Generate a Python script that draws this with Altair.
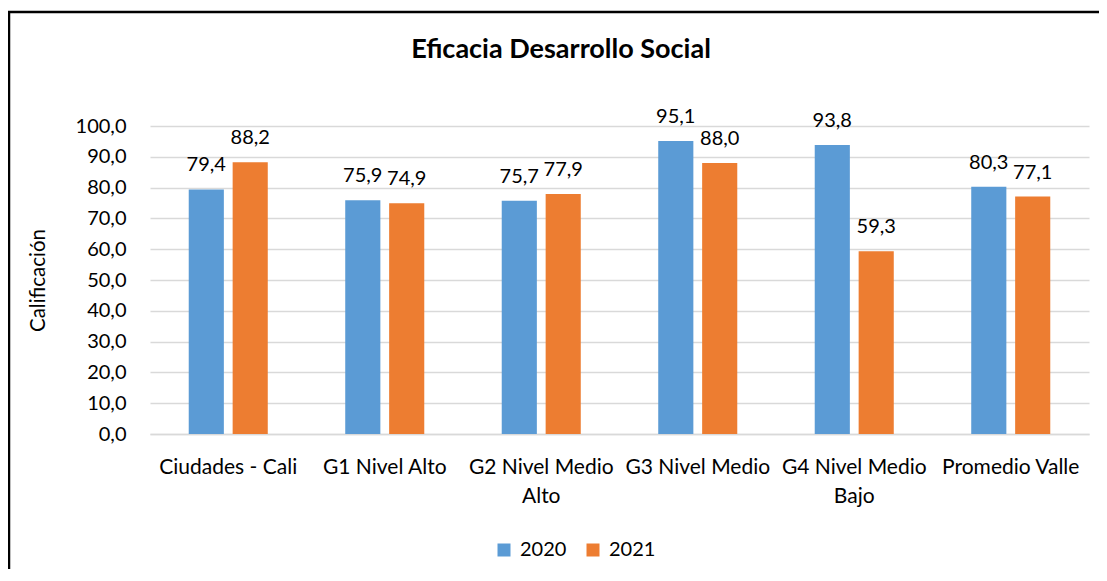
import altair as alt
import pandas as pd

categories = ["Ciudades - Cali", "G1 Nivel Alto", "G2 Nivel Medio Alto",
              "G3 Nivel Medio", "G4 Nivel Medio Bajo", "Promedio Valle"]
years = ["2020", "2021"]
values_2020 = [79.4, 75.9, 75.7, 95.1, 93.8, 80.3]
values_2021 = [88.2, 74.9, 77.9, 88.0, 59.3, 77.1]
y_ticks = [0, 10, 20, 30, 40, 50, 60, 70, 80, 90, 100]
colors = ["#5B9BD5", "#ED7D31"]
chart_title = "Eficacia Desarrollo Social"

rows = []
for c, a, b in zip(categories, values_2020, values_2021):
    rows.append({"cat": c, "year": years[0], "val": a})
    rows.append({"cat": c, "year": years[1], "val": b})
df = pd.DataFrame(rows)

FONT = "Lato"
W, H = 939, 308
PL, PT, PR, PB = 142, 118, 10, 135

label_expr = ("datum.label == 'G2 Nivel Medio Alto' ? ['G2 Nivel Medio', 'Alto'] : "
              "datum.label == 'G4 Nivel Medio Bajo' ? ['G4 Nivel Medio', 'Bajo'] : datum.label")

x_axis = alt.Axis(labelExpr=label_expr, labelAngle=0, ticks=False,
                  labelPadding=22, labelLineHeight=29, labelFontSize=21,
                  labelColor="#000000", domainColor="#D9D9D9", domainWidth=1.5,
                  grid=False, labelLimit=300)
y_axis = alt.Axis(values=y_ticks, tickCount=len(y_ticks) + 5,
                  labelExpr="replace(format(datum.value, '.1f'), '.', ',')",
                  labelOverlap=False,
                  ticks=False, domain=False, labelPadding=24, labelFontSize=20,
                  labelColor="#000000", gridColor="#D9D9D9", gridWidth=1.5,
                  titleFontSize=20.5, titleFontWeight="normal", titleColor="#000000",
                  titleX=-112, titleY=H / 2, titleAngle=-90,
                  titleAlign="center", titleBaseline="middle")
x_scale = alt.Scale(paddingInner=0.495, paddingOuter=0.2475)
y_scale = alt.Scale(domain=[0, 100], nice=False)

x_enc = alt.X("cat:N", sort=categories, title=None, scale=x_scale, axis=x_axis)
xoff = alt.XOffset("year:N", sort=years, scale=alt.Scale(paddingInner=0.2))
y_enc = alt.Y("val:Q", title="Calificación", scale=y_scale, axis=y_axis)

base = alt.Chart(df)

bars = base.mark_bar().encode(
    x=x_enc, xOffset=xoff, y=y_enc,
    color=alt.Color("year:N", sort=years,
                    scale=alt.Scale(domain=years, range=colors),
                    legend=alt.Legend(title=None, orient="none", legendX=344, legendY=414,
                                      direction="horizontal", symbolType="square",
                                      symbolSize=169, symbolStrokeWidth=0, labelFontSize=20,
                                      labelColor="#000000", labelOffset=6, columnPadding=16,
                                      padding=0)))

labels = base.transform_calculate(
    lab="replace(format(datum.val, '.1f'), '.', ',')"
).mark_text(baseline="alphabetic", dy=-18, fontSize=20, color="#000000").encode(
    x=x_enc, xOffset=xoff, y=y_enc, text="lab:N")

border = alt.Chart(alt.Data(values=[{}])).mark_rect(
    fill=None, stroke="#000000", strokeWidth=2.5
).encode(x=alt.value(-141), x2=alt.value(W + 60), y=alt.value(-114), y2=alt.value(H + 300))

title_mark = alt.Chart(alt.Data(values=[{"t": chart_title}])).mark_text(
    fontSize=27, fontWeight="bold", color="#000000", align="center", baseline="alphabetic"
).encode(x=alt.value(411), y=alt.value(-68), text="t:N")

chart = alt.layer(border, bars, labels, title_mark).properties(
    width=W, height=H,
    autosize=alt.AutoSizeParams(type="none"),
    padding={"left": PL, "top": PT, "right": PR, "bottom": PB},
).configure(font=FONT).configure_view(stroke=None)

chart.save("out.html", embed_options={"renderer": "svg", "actions": False})
